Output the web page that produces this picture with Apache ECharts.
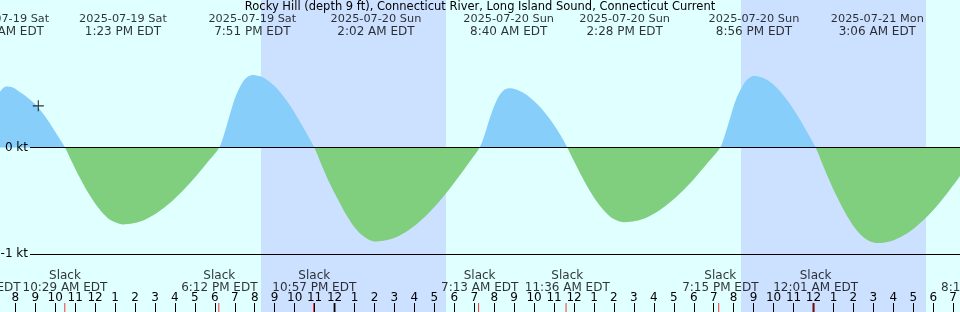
<!DOCTYPE html>
<html><head><meta charset="utf-8">
<script src="https://cdn.jsdelivr.net/npm/echarts@6/dist/echarts.min.js"></script>
<style>html,body{margin:0;padding:0;background:#e0ffff}#c{width:960px;height:312px}</style>
</head><body><div id="c"></div>
<script>
const titleText = "Rocky Hill (depth 9 ft), Connecticut River, Long Island Sound, Connecticut Current";
// time: hours since 2025-07-19 00:00 EDT; current speed in knots (flood +, ebb -)
const curveHours = [
  6.333,6.6,6.9,7.2,7.55,7.9,8.3,8.7,9.1,9.5,9.9,10.2,10.483,
  10.8,11.2,11.6,12.0,12.4,12.8,13.383,13.9,14.5,15.1,15.7,16.3,16.9,17.5,18.2,
  18.45,18.7,18.95,19.2,19.5,19.85,20.25,20.7,21.15,21.6,22.05,22.5,22.95,
  23.3,23.7,24.1,24.5,24.9,25.3,25.7,26.033,26.6,27.2,27.8,28.4,29.0,29.6,30.2,30.7,31.217,
  31.45,31.7,31.95,32.2,32.45,32.667,33.05,33.5,33.95,34.4,34.85,35.25,35.6,
  35.9,36.3,36.7,37.1,37.5,37.9,38.467,39.0,39.6,40.2,40.8,41.4,42.0,42.6,43.25,
  43.5,43.75,44.0,44.25,44.55,44.933,45.35,45.8,46.25,46.7,47.15,47.6,48.017,
  48.35,48.75,49.15,49.55,49.95,50.35,50.75,51.1,51.7,52.3,52.9,53.5,54.1,54.7,55.3,55.8,56.217];
const curveKnots = [
  0,0.16,0.38,0.51,0.57,0.56,0.51,0.455,0.385,0.29,0.175,0.086,0,
  -0.123,-0.273,-0.41,-0.527,-0.62,-0.684,-0.72,-0.71,-0.673,-0.61,-0.524,-0.418,-0.297,-0.163,0,
  0.13,0.29,0.445,0.554,0.643,0.68,0.666,0.618,0.538,0.43,0.30,0.154,0,
  -0.156,-0.328,-0.475,-0.615,-0.732,-0.815,-0.865,-0.88,-0.867,-0.826,-0.757,-0.663,-0.548,-0.414,-0.267,-0.137,0,
  0.11,0.26,0.39,0.486,0.54,0.555,0.543,0.50,0.432,0.345,0.235,0.12,0,
  -0.115,-0.262,-0.397,-0.513,-0.604,-0.667,-0.70,-0.689,-0.652,-0.59,-0.504,-0.40,-0.28,-0.148,0,
  0.13,0.28,0.432,0.538,0.628,0.67,0.655,0.606,0.525,0.416,0.287,0.141,0,
  -0.151,-0.327,-0.488,-0.63,-0.746,-0.83,-0.881,-0.895,-0.88,-0.835,-0.762,-0.663,-0.542,-0.402,-0.249,-0.114,0];
const maxHours = [7.5,13.383,19.85,26.033,32.667,38.467,44.933,51.1];
const maxDates = ["2025-07-19 Sat","2025-07-19 Sat","2025-07-19 Sat","2025-07-20 Sun",
  "2025-07-20 Sun","2025-07-20 Sun","2025-07-20 Sun","2025-07-21 Mon"];
const maxTimes = ["7:30 AM EDT","1:23 PM EDT","7:51 PM EDT","2:02 AM EDT",
  "8:40 AM EDT","2:28 PM EDT","8:56 PM EDT","3:06 AM EDT"];
const slackHours = [6.333,10.483,18.2,22.95,31.217,35.6,43.25,48.017,56.217];
const slackTimes = ["6:20 AM EDT","10:29 AM EDT","6:12 PM EDT","10:57 PM EDT",
  "7:13 AM EDT","11:36 AM EDT","7:15 PM EDT","12:01 AM EDT","8:13 AM EDT"];
const slackWord = "Slack";
const nightStart = [20.283, 44.283];
const nightEnd = [29.533, 53.533];
const midnightHours = [24, 48];
const refLevels = [0, -1];
const refLabels = ["0 kt", "-1 kt"];
const markerPoint = [9.15, 0.39];
const viewStartHour = 7.235, viewEndHour = 55.235;

const FONT = "DejaVu Sans";
const H = 3600000;
const ms = h => h * H;
const X_MIN = ms(viewStartHour), X_MAX = ms(viewEndHour);
const lineStart = ms(viewStartHour + 1.5);

const curve = curveHours.map((h,i)=>[ms(h), curveKnots[i]]);
const xBase = {type:'time', min:X_MIN, max:X_MAX, show:false};
const chart = echarts.init(document.getElementById('c'), null, {renderer:'canvas'});
chart.setOption({
  animation:false,
  useUTC:true,
  backgroundColor:'#e0ffff',
  textStyle:{fontFamily:FONT},
  title:{text:titleText, left:'center', top:0, padding:0,
    textStyle:{fontFamily:FONT, fontSize:11.5, fontWeight:'normal', color:'#000', lineHeight:14}},
  visualMap:{show:false, type:'piecewise', seriesIndex:1, dimension:1,
    pieces:[{gt:-3, lte:0, color:'#7fcf7f'},{gt:0, lte:3, color:'#87cefa'}]},
  grid:[
    {left:0, right:0, top:40.7, bottom:57.7},
    {left:0, right:0, top:0, bottom:0},
    {left:0, right:0, top:303, bottom:0}
  ],
  xAxis:[
    Object.assign({gridIndex:0}, xBase),
    Object.assign({gridIndex:1}, xBase),
    {gridIndex:2, type:'time', min:X_MIN, max:X_MAX, minInterval:H, maxInterval:H, z:8,
      axisLine:{show:false}, splitLine:{show:false},
      axisTick:{show:true, inside:true, length:9, lineStyle:{color:'#000', width:1}},
      axisLabel:{inside:true, margin:8, interval:0, hideOverlap:false, showMinLabel:false, showMaxLabel:false,
        color:'#000', fontSize:12, fontFamily:FONT, fontWeight:'normal',
        formatter:v=>{ if (v % H !== 0) return ''; const m = new Date(v).getUTCHours() % 12; return String(m===0?12:m);}}}
  ],
  yAxis:[
    {gridIndex:0, type:'value', min:-1, max:1, show:false},
    {gridIndex:1, type:'value', min:0, max:1, show:false},
    {gridIndex:2, type:'value', min:0, max:1, show:false}
  ],
  series:[
    {type:'line', xAxisIndex:1, yAxisIndex:1, data:[[X_MIN,0]], showSymbol:false, lineStyle:{opacity:0}, z:0, silent:true,
      markArea:{silent:true, z:0, itemStyle:{color:'#cce0ff'},
        data: nightStart.map((s,i)=>[{xAxis:ms(s)},{xAxis:ms(nightEnd[i])}])}},
    {type:'line', xAxisIndex:0, yAxisIndex:0, data:curve, showSymbol:false, smooth:0.3,
      lineStyle:{width:0}, areaStyle:{opacity:1}, z:2},
    {type:'line', xAxisIndex:0, yAxisIndex:0, data:[], z:3,
      markLine:{silent:true, symbol:'none', animation:false,
        lineStyle:{color:'#000', width:1, type:'solid'},
        label:{show:true, position:'start', distance:2, color:'#000', fontSize:12, fontFamily:FONT,
          formatter:p=>refLabels[refLevels.indexOf(p.value)]},
        data: refLevels.map(v=>[{coord:[lineStart, v], value:v},{coord:[X_MAX, v]}])}},
    {type:'scatter', xAxisIndex:0, yAxisIndex:0, data:[[ms(markerPoint[0]), markerPoint[1]]], z:4,
      symbol:'path://M4.5,0h1v10h-1zM0,4.5h10v1h-10z', symbolSize:11, itemStyle:{color:'#000'}},
    {type:'scatter', xAxisIndex:1, yAxisIndex:1, clip:false, z:5, symbolSize:1, itemStyle:{color:'rgba(0,0,0,0)'},
      data: maxHours.map((h,i)=>({value:[ms(h),1], label:{formatter:'{d|'+maxDates[i]+'}\n{t|'+maxTimes[i]+'}'}})),
      label:{show:true, position:'bottom', distance:13, color:'#000', align:'center',
        rich:{d:{fontSize:11.3, fontFamily:FONT, lineHeight:12, color:'#000'},
              t:{fontSize:12, fontFamily:FONT, lineHeight:12, color:'#000'}}}},
    {type:'scatter', xAxisIndex:1, yAxisIndex:1, clip:false, z:5, symbolSize:1, itemStyle:{color:'rgba(0,0,0,0)'},
      data: slackHours.map((h,i)=>({value:[ms(h),0], label:{formatter:slackWord+'\n'+slackTimes[i]}})),
      label:{show:true, position:'top', distance:18, color:'#000', fontSize:12, fontFamily:FONT, lineHeight:12, align:'center'}},
    {type:'scatter', xAxisIndex:2, yAxisIndex:2, clip:false, z:9, symbol:'rect', symbolSize:[2,9],
      itemStyle:{color:'#000'}, data: midnightHours.map(h=>[ms(h),0.5])},
    {type:'scatter', xAxisIndex:2, yAxisIndex:2, clip:false, z:10, symbol:'rect', symbolSize:[1,9],
      itemStyle:{color:'#ff0000'}, data: slackHours.map(h=>[ms(h),0.5])}
  ]
});
</script></body></html>
